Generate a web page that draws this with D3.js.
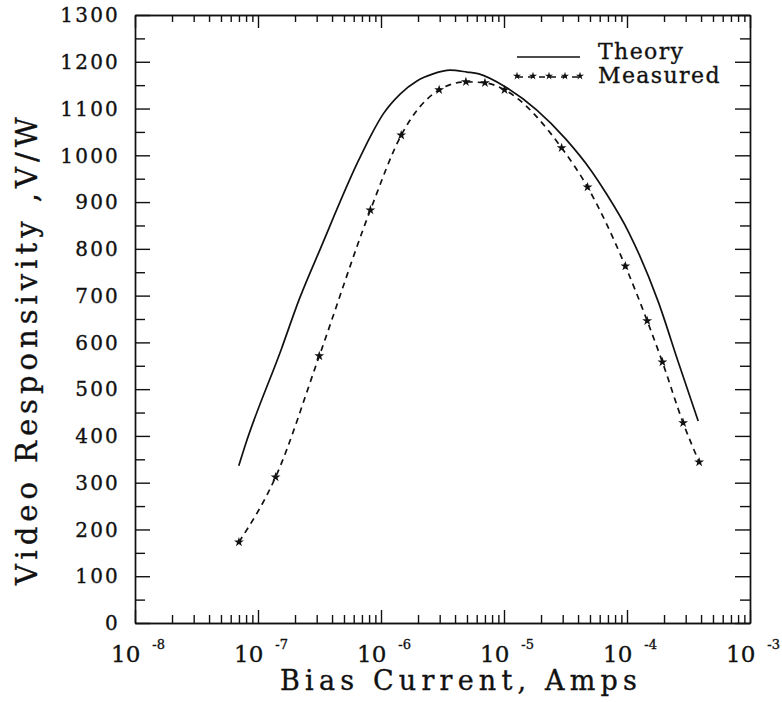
<!DOCTYPE html>
<html>
<head>
<meta charset="utf-8">
<script src="https://cdn.jsdelivr.net/npm/d3@7"></script>
<style>
  body { margin: 0; background: #fff; }
  text { font-family: "DejaVu Serif", serif; fill: #111; stroke: #111; stroke-width: 0.35px; }
</style>
</head>
<body>
<div id="chart"></div>
<script>
// data
const theoryCurrent = [6.97e-8, 7.78e-8, 1.55e-7, 2.17e-7, 3.21e-7, 6.38e-7, 8.15e-7, 1.04e-6, 1.43e-6, 1.96e-6, 2.65e-6, 3.64e-6, 5.0e-6, 6.25e-6, 1.03e-5, 3.17e-5, 5.15e-5, 6.68e-5, 1.03e-4, 1.8e-4, 2.61e-4, 3.79e-4];
const theoryResp = [336, 376, 586, 693, 800, 982, 1039, 1088, 1131, 1159, 1174, 1182, 1178, 1174, 1146, 1035, 966, 921, 836, 686, 558, 432];

const measuredCurrent = [7.0e-8, 1.39e-7, 3.15e-7, 8.2e-7, 1.46e-6, 2.97e-6, 4.9e-6, 7.0e-6, 1.01e-5, 2.94e-5, 4.78e-5, 9.7e-5, 1.46e-4, 1.94e-4, 2.86e-4, 3.86e-4];
const measuredResp = [173, 312, 571, 883, 1043, 1140, 1157, 1155, 1140, 1016, 932, 763, 646, 558, 428, 344];

const xExponents = [-8, -7, -6, -5, -4, -3];
const yTicks = d3.range(0, 1301, 100);

const seriesNames = ["Theory", "Measured"];

// set the dimensions and margins of the graph
const margin = { top: 15, right: 32, bottom: 79, left: 135 },
  width = 782 - margin.left - margin.right,
  height = 702 - margin.top - margin.bottom;

const svg = d3
  .select("#chart")
  .append("svg")
  .attr("width", 782)
  .attr("height", 702)
  .append("g")
  .attr("transform", `translate(${margin.left},${margin.top})`);

const x = d3.scaleLog().domain([1e-8, 1e-3]).range([0, width]);
const y = d3.scaleLinear().domain([0, 1300]).range([height, 0]);

const majorX = xExponents.map((e) => Math.pow(10, e));
const minorX = [];
xExponents.slice(0, -1).forEach((e) => {
  for (let k = 2; k <= 9; k++) minorX.push(k * Math.pow(10, e));
});
const minorY = d3.range(50, 1300, 100);

function styleAxis(g) {
  g.selectAll("path, line").attr("stroke", "#111").attr("stroke-width", 1.4);
}

// bottom + top ticks, pointing inward
svg.append("g").attr("transform", `translate(0,${height})`)
  .call(d3.axisBottom(x).tickValues(majorX).tickSizeInner(-13).tickSizeOuter(0).tickFormat(""))
  .call(styleAxis);
svg.append("g").attr("transform", `translate(0,${height})`)
  .call(d3.axisBottom(x).tickValues(minorX).tickSizeInner(-8).tickSizeOuter(0).tickFormat(""))
  .call(styleAxis);
svg.append("g")
  .call(d3.axisTop(x).tickValues(majorX).tickSizeInner(-13).tickSizeOuter(0).tickFormat(""))
  .call(styleAxis);
svg.append("g")
  .call(d3.axisTop(x).tickValues(minorX).tickSizeInner(-7).tickSizeOuter(0).tickFormat(""))
  .call(styleAxis);

// left + right ticks
svg.append("g")
  .call(d3.axisLeft(y).tickValues(yTicks).tickSizeInner(-15).tickSizeOuter(0).tickFormat(""))
  .call(styleAxis);
svg.append("g")
  .call(d3.axisLeft(y).tickValues(minorY).tickSizeInner(-10).tickSizeOuter(0).tickFormat(""))
  .call(styleAxis);
svg.append("g").attr("transform", `translate(${width},0)`)
  .call(d3.axisRight(y).tickValues(yTicks).tickSizeInner(-15).tickSizeOuter(0).tickFormat(""))
  .call(styleAxis);
svg.append("g").attr("transform", `translate(${width},0)`)
  .call(d3.axisRight(y).tickValues(minorY).tickSizeInner(-10).tickSizeOuter(0).tickFormat(""))
  .call(styleAxis);

// y tick labels
svg.selectAll(".ylab")
  .data(yTicks)
  .enter()
  .append("text")
  .attr("class", "ylab")
  .attr("x", -15)
  .attr("y", (d) => y(d))
  .attr("dy", "0.36em")
  .attr("text-anchor", "end")
  .attr("font-size", "20px")
  .attr("letter-spacing", "2.2px")
  .text((d) => d);

// x tick labels 10^n
const xl = svg.selectAll(".xlab")
  .data(xExponents)
  .enter()
  .append("text")
  .attr("class", "xlab")
  .attr("x", (d) => x(Math.pow(10, d)) + 3)
  .attr("y", height + 39)
  .attr("text-anchor", "middle")
  .attr("font-size", "23px");
xl.append("tspan").text("10");
xl.append("tspan")
  .attr("dx", 12)
  .attr("dy", -13)
  .attr("font-size", "13px")
  .text((d) => "-" + Math.abs(d));

// axis titles
svg.append("text")
  .attr("x", 145)
  .attr("y", height + 67)
  .attr("font-size", "27px")
  .attr("letter-spacing", "5.2px")
  .text("Bias Current, Amps");

svg.append("text")
  .attr("transform", `translate(${37 - margin.left},${585 - margin.top}) rotate(-90)`)
  .attr("font-size", "29px")
  .attr("letter-spacing", "5px")
  .text("Video Responsivity ,V/W");

// lines
const line = d3.line()
  .x((d) => x(d[0]))
  .y((d) => y(d[1]))
  .curve(d3.curveMonotoneX);

const theory = theoryCurrent.map((c, i) => [c, theoryResp[i]]);
const measured = measuredCurrent.map((c, i) => [c, measuredResp[i]]);

svg.append("path")
  .datum(theory)
  .attr("fill", "none")
  .attr("stroke", "#111")
  .attr("stroke-width", 1.7)
  .attr("d", line);

svg.append("path")
  .datum(measured)
  .attr("fill", "none")
  .attr("stroke", "#111")
  .attr("stroke-width", 1.7)
  .attr("stroke-dasharray", "6,5")
  .attr("d", line);

const star = d3.symbol().type(d3.symbolStar).size(30);
svg.selectAll(".pt")
  .data(measured)
  .enter()
  .append("path")
  .attr("class", "pt")
  .attr("transform", (d) => `translate(${x(d[0])},${y(d[1])})`)
  .attr("fill", "#111")
  .attr("d", star);

// legend
const legend = svg.append("g").attr("transform", `translate(${517 - margin.left},${57 - margin.top})`);
legend.append("line")
  .attr("x1", 0).attr("x2", 63).attr("y1", 0).attr("y2", 0)
  .attr("stroke", "#111").attr("stroke-width", 1.7);
legend.append("line")
  .attr("x1", 0).attr("x2", 63).attr("y1", 20).attr("y2", 20)
  .attr("stroke", "#111").attr("stroke-width", 1.7)
  .attr("stroke-dasharray", "6,5");
legend.selectAll(".lpt")
  .data([0, 16, 32, 48, 63])
  .enter()
  .append("path")
  .attr("transform", (d) => `translate(${d},19)`)
  .attr("fill", "#111")
  .attr("d", d3.symbol().type(d3.symbolStar).size(20));
legend.selectAll(".ltext")
  .data(seriesNames)
  .enter()
  .append("text")
  .attr("x", 81)
  .attr("y", (d, i) => 2 + i * 24)
  .attr("font-size", "22px")
  .attr("letter-spacing", "1.4px")
  .text((d) => d);
</script>
</body>
</html>
